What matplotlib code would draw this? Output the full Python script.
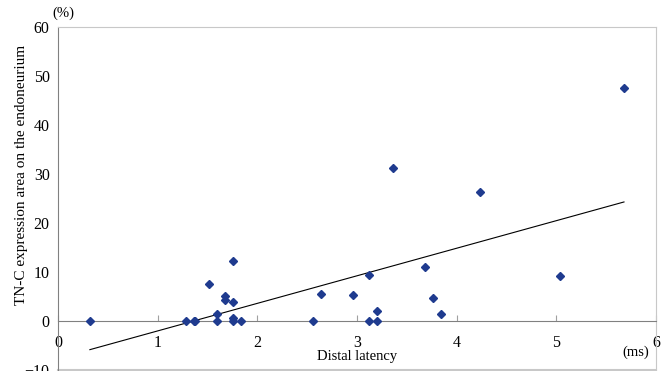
import numpy as np
import matplotlib
matplotlib.use('Agg')
import matplotlib.pyplot as plt

# distal latency (ms) vs TN-C expression area (%)
latency = [0.32, 1.28, 1.36, 1.37, 1.52, 1.60, 1.60, 1.68, 1.68,
           1.76, 1.76, 1.76, 1.76, 1.84, 2.56, 2.64, 2.96, 3.12,
           3.12, 3.20, 3.20, 3.36, 3.68, 3.76, 3.84, 4.24, 5.04, 5.68]
tnc_area = [0.0, 0.0, 0.0, 0.0, 7.6, 1.4, 0.0, 5.1, 4.3,
            12.3, 3.9, 0.7, 0.0, 0.0, 0.0, 5.6, 5.4, 9.3,
            0.0, 2.0, 0.0, 31.2, 11.1, 4.6, 1.4, 26.3, 9.2, 47.6]
xticks = [0, 1, 2, 3, 4, 5, 6]
yticks = [-10, 0, 10, 20, 30, 40, 50, 60]

plt.rcParams['font.family'] = 'Liberation Serif'

fig = plt.figure(figsize=(6.72, 3.71), dpi=100)
ax = fig.add_axes([0.0863, 0.0027, 0.8897, 0.9245])

x = np.array(latency)
y = np.array(tnc_area)
ax.plot(x, y, linestyle='none', marker='D', markersize=3.6,
        color='#1f3b8f', zorder=3)

# least squares line over the data range
slope, icpt = np.polyfit(x, y, 1)
xl = np.array([x.min(), x.max()])
ax.plot(xl, slope * xl + icpt, color='black', linewidth=0.8, zorder=2)

ax.set_xlim(0, 6)
ax.set_ylim(-10, 60)
ax.set_xticks(xticks)
ax.set_yticks(yticks)

for s in ['top', 'right']:
    ax.spines[s].set_color('#c8c8c8')
ax.spines['left'].set_color('#808080')
ax.spines['bottom'].set_position(('data', 0))
ax.spines['bottom'].set_color('#808080')
ax.axhline(-10, color='#c8c8c8', linewidth=1.5, clip_on=False)

ax.tick_params(axis='x', direction='in', length=4, color='#a0a0a0',
               labelsize=11.5, pad=10)
ax.tick_params(axis='y', length=0, labelsize=11.5, pad=6)

ax.set_ylabel('TN-C expression area on the endoneurium', fontsize=11)
ax.yaxis.set_label_coords(-0.050, 0.57)
ax.text(3.0, -7.2, 'Distal latency', fontsize=10.5, ha='center', va='center')
ax.text(5.8, -6.3, '(ms)', fontsize=10.5, ha='center', va='center')
ax.text(0.05, 62.8, '(%)', fontsize=10.5, ha='center', va='center',
        clip_on=False)

plt.savefig('out.png', dpi=100)
